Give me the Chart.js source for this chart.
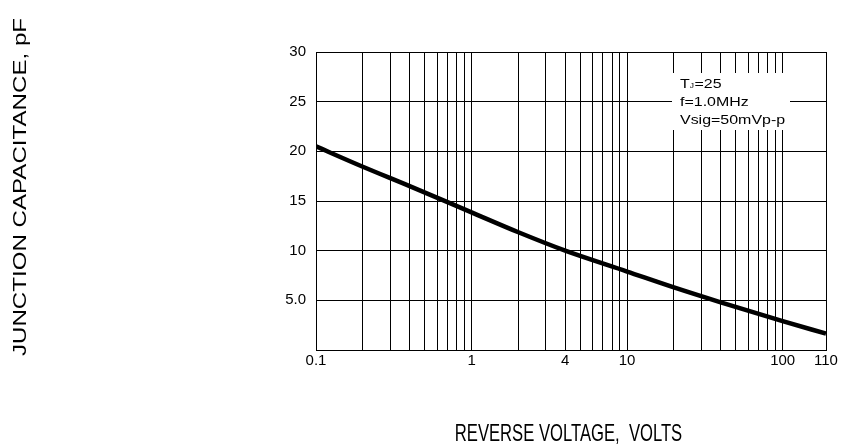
<!DOCTYPE html>
<html><head><meta charset="utf-8">
<script src="https://cdn.jsdelivr.net/npm/chart.js@4.4.1/dist/chart.umd.min.js"></script>
<style>html,body{margin:0;padding:0;background:#fff;}#wrap{width:846px;height:445px;position:relative;}</style>
</head><body><div id="wrap"><canvas id="c"></canvas></div>
<script>
// ---- data ----
const reverseVoltage = [0.1, 0.2, 0.4, 1, 2, 4, 10, 20, 40, 100, 190];
const junctionCapacitance = [20.5, 18.45, 16.5, 13.85, 11.85, 10.0, 7.9, 6.3, 4.8, 2.9, 1.65];
const xGridValues = [0.1, 0.2, 0.3, 0.4, 0.5, 0.6, 0.7, 0.8, 0.9, 1, 2, 3, 4, 5, 6, 7, 8, 9, 10, 20, 30, 40, 50, 60, 70, 80, 90, 100, 190];
const xTickValues = [0.1, 1, 4, 10, 100, 190];
const xTickLabels = ['0.1', '1', '4', '10', '100', '110'];
const yTickValues = [0, 5, 10, 15, 20, 25, 30];
const yTickLabels = ['', '5.0', '10', '15', '20', '25', '30'];
const xTitle = 'REVERSE VOLTAGE,  VOLTS';
const yTitle = 'JUNCTION CAPACITANCE, pF';
const noteLines = [['T', 'J', '=25'], ['f=1.0MHz'], ['Vsig=50mVp-p']];

const FONT = '"Liberation Sans", Arial, sans-serif';

function drawStretched(ctx, text, x, y, sx, sy, rot, size, align) {
  ctx.save();
  ctx.translate(x, y);
  if (rot) ctx.rotate(rot);
  ctx.scale(sx, sy);
  ctx.font = size + 'px ' + FONT;
  ctx.fillStyle = '#000';
  ctx.textAlign = align || 'center';
  ctx.textBaseline = 'alphabetic';
  ctx.fillText(text, 0, 0);
  ctx.restore();
}

const titlePlugin = {
  id: 'stretchTitles',
  beforeDraw(chart) {
    const xs = chart.scales.x, ys = chart.scales.y;
    if (!xs.__patched) {
      xs.__patched = true;
      xs.drawTitle = function () {
        drawStretched(this.ctx, this.options.title.text, 568.5, 441, 0.693, 1, 0, 24);
      };
    }
    if (!ys.__patched) {
      ys.__patched = true;
      ys.drawTitle = function () {
        drawStretched(this.ctx, this.options.title.text, 26, 187, 1.34, 1, -Math.PI / 2, 18);
      };
    }
  }
};

const notePlugin = {
  id: 'note',
  beforeDatasetsDraw(chart) {
    const ctx = chart.ctx;
    ctx.save();
    ctx.fillStyle = '#fff';
    ctx.fillRect(672, 73, 118, 57);
    const sx = 1.2;
    const baselines = [87.7, 106, 124.3];
    noteLines.forEach((parts, i) => {
      let x = 680;
      const y = baselines[i];
      if (parts.length === 3) {
        ctx.font = '13.3px ' + FONT;
        drawStretched(ctx, parts[0], x, y, sx, 1, 0, 13.3, 'left');
        x += ctx.measureText(parts[0]).width * sx;
        ctx.font = '7px ' + FONT;
        drawStretched(ctx, parts[1], x, y, sx, 1, 0, 7, 'left');
        x += ctx.measureText(parts[1]).width * sx + 0.5;
        drawStretched(ctx, parts[2], x, y, sx, 1, 0, 13.3, 'left');
      } else {
        drawStretched(ctx, parts[0], x, y, sx, 1, 0, 13.3, 'left');
      }
    });
    ctx.restore();
  }
};

new Chart(document.getElementById('c'), {
  type: 'line',
  data: {
    datasets: [{
      data: reverseVoltage.map((v, i) => ({ x: v, y: junctionCapacitance[i] })),
      borderColor: '#000',
      borderWidth: 4.5,
      pointRadius: 0,
      cubicInterpolationMode: 'monotone',
      fill: false
    }]
  },
  options: {
    responsive: true,
    maintainAspectRatio: false,
    animation: false,
    layout: { padding: { left: 0, right: 20, top: 52, bottom: 0 } },
    plugins: { legend: { display: false }, tooltip: { enabled: false } },
    scales: {
      x: {
        type: 'logarithmic',
        min: 0.1,
        max: 190,
        afterBuildTicks: (s) => { s.ticks = xGridValues.map(v => ({ value: v })); },
        afterFit: (s) => { s.height = 95; },
        grid: { color: '#000', lineWidth: 1, drawTicks: false },
        border: { color: '#000', width: 1 },
        ticks: {
          autoSkip: false, maxRotation: 0, minRotation: 0, padding: 2,
          color: '#000', font: { family: FONT, size: 15 },
          callback: (v) => { const i = xTickValues.indexOf(v); return i >= 0 ? xTickLabels[i] : ''; }
        },
        title: { display: true, text: xTitle, color: '#000', font: { family: FONT, size: 24 } }
      },
      y: {
        type: 'linear',
        min: 0,
        max: 30,
        afterBuildTicks: (s) => { s.ticks = yTickValues.map(v => ({ value: v })); },
        afterFit: (s) => { s.width = 316; },
        grid: { color: '#000', lineWidth: 1, drawTicks: false },
        border: { color: '#000', width: 1 },
        ticks: {
          padding: 10, color: '#000', font: { family: FONT, size: 15 },
          callback: (v) => { const i = yTickValues.indexOf(v); return i >= 0 ? yTickLabels[i] : ''; }
        },
        title: { display: true, text: yTitle, color: '#000', font: { family: FONT, size: 18 } }
      }
    }
  },
  plugins: [titlePlugin, notePlugin]
});
</script>
</body></html>
